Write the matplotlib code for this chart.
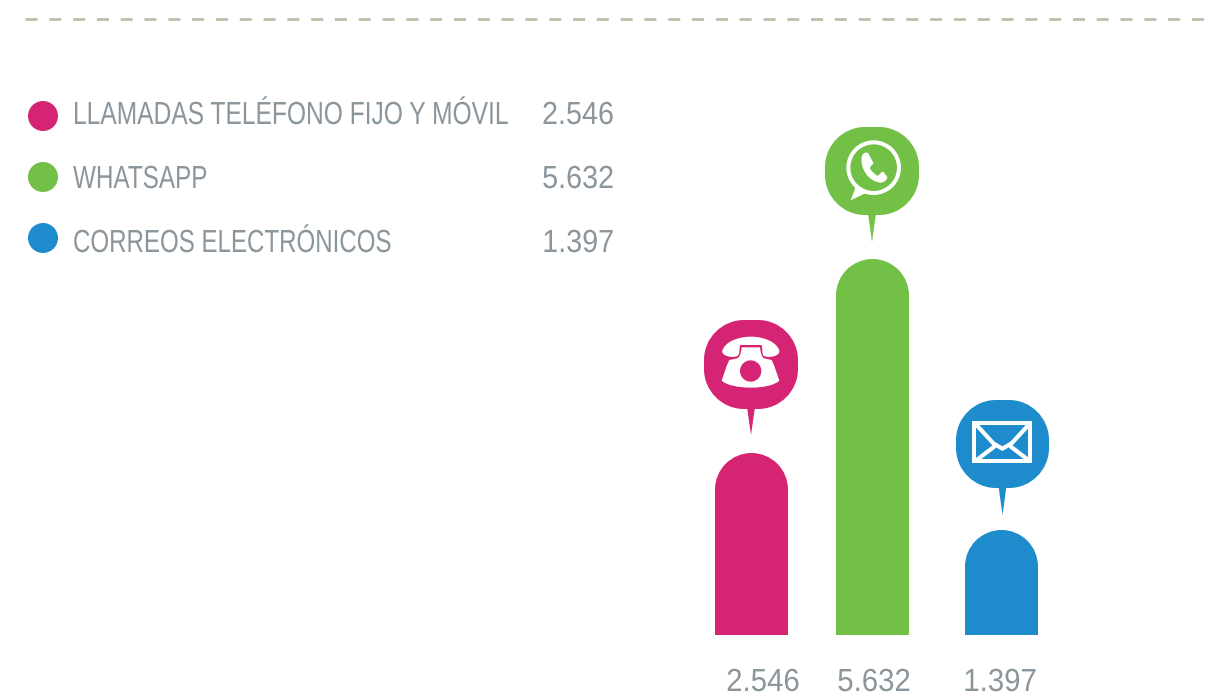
import matplotlib
matplotlib.use("Agg")
import matplotlib.pyplot as plt
from matplotlib.patches import Circle, Ellipse, PathPatch, Polygon, Rectangle
from matplotlib.patheffects import AbstractPathEffect
from matplotlib.path import Path
from matplotlib.transforms import Affine2D, Bbox

categories = ["LLAMADAS TELÉFONO FIJO Y MÓVIL", "WHATSAPP", "CORREOS ELECTRÓNICOS"]
value_labels = ["2.546", "5.632", "1.397"]
# drawn heights differ a bit from the labels in the original graphic
bar_heights = [2726, 5632, 1573]
colors = ["#d52473", "#72c045", "#1e8bcd"]

GREY = "#8b959c"
FONT = "Liberation Sans"


class Squeeze(AbstractPathEffect):
    # no condensed font installed, so narrow the glyphs around an anchor
    def __init__(self, x0, sx):
        super().__init__()
        self.x0 = x0
        self.sx = sx

    def draw_path(self, renderer, gc, tpath, affine, rgbFace=None):
        squeeze = Affine2D().translate(-self.x0, 0).scale(self.sx, 1).translate(self.x0, 0)
        renderer.draw_path(gc, tpath, affine + squeeze, rgbFace)


def narrow_text(x, y, s, sx, ha):
    t = ax.text(x, y, s, fontsize=23, color=GREY, family=FONT, va="baseline", ha=ha,
                path_effects=[Squeeze(x, sx)])
    full_extent = t.get_window_extent

    # report the box that is really drawn, not the unsqueezed one
    def extent(renderer=None, dpi=None):
        b = full_extent(renderer, dpi)
        return Bbox([[x + (b.x0 - x) * sx, b.y0], [x + (b.x1 - x) * sx, b.y1]])

    t.get_window_extent = extent
    return t


fig = plt.figure(figsize=(12.26, 6.97), dpi=100)

# overlay in pixel coordinates for legend, icons and labels
ax = fig.add_axes([0, 0, 1, 1], zorder=2)
ax.set_xlim(0, 1226)
ax.set_ylim(697, 0)
ax.axis("off")
ax.patch.set_alpha(0)

# bars, y in value units, baseline at pixel 635
PX = 5632 / 376
ax_bars = fig.add_axes([0, (697 - 635) / 697, 1, 420 / 697], zorder=1)
ax_bars.set_xlim(0, 1226)
ax_bars.set_ylim(0, 420 * PX)
ax_bars.axis("off")

bar_x = [751.5, 872.5, 1001.5]
bar_w = 73
for x, h, c in zip(bar_x, bar_heights, colors):
    r = bar_w / 2 * PX
    ax_bars.bar(x, h - r, width=bar_w, color=c, linewidth=0)
    ax_bars.add_patch(Ellipse((x, h - r), bar_w, 2 * r, color=c, linewidth=0))

# top dashed rule, dash lengths are in points times lw
ax.plot([25, 1206], [19, 19], color="#bcbba8", lw=1.9,
        linestyle=(0, (8.64 / 1.9, 8.5 / 1.9)), dash_capstyle="butt")

# legend
legend_y = [116, 177, 238]
baseline_y = [124, 188, 252]
label_sx = [0.769, 0.76, 0.754]
for name, lab, c, y, by, sx in zip(categories, value_labels, colors, legend_y, baseline_y, label_sx):
    ax.add_patch(Circle((43, y), 15, color=c, linewidth=0))
    narrow_text(73, by, name, sx, "left")
    narrow_text(614, by, lab, 0.9, "right")

# value labels under the bars
label_x = [763, 874, 1000]
for x, lab in zip(label_x, value_labels):
    narrow_text(x, 691, lab, 0.92, "center")

M, L, Z = Path.MOVETO, Path.LINETO, Path.CLOSEPOLY
C = [Path.CURVE4] * 3


def bubble(x0, x1, y0, y1, tip_x, tip_y, c):
    rad = 40
    k = rad * 0.45
    verts = [(x0 + rad, y0), (x1 - rad, y0),
             (x1 - k, y0), (x1, y0 + k), (x1, y0 + rad), (x1, y1 - rad),
             (x1, y1 - k), (x1 - k, y1), (x1 - rad, y1), (x0 + rad, y1),
             (x0 + k, y1), (x0, y1 - k), (x0, y1 - rad), (x0, y0 + rad),
             (x0, y0 + k), (x0 + k, y0), (x0 + rad, y0), (x0 + rad, y0)]
    codes = [M, L] + C + [L] + C + [L] + C + [L] + C + [Z]
    ax.add_patch(PathPatch(Path(verts, codes), facecolor=c, linewidth=0))
    ax.add_patch(Polygon([(tip_x - 4, y1 - 2), (tip_x + 4, y1 - 2), (tip_x, tip_y)],
                         facecolor=c, linewidth=0))


def curve_patch(ox, oy, verts, codes, **kw):
    pts = [(ox + vx / 3, oy + vy / 3) for vx, vy in verts]
    ax.add_patch(PathPatch(Path(pts, codes), linewidth=0, **kw))


# telephone
bubble(704, 798, 320, 409, 751, 435, colors[0])
curve_patch(690, 310,
            [(97, 122), (105, 95), (145, 80), (182, 80), (220, 80), (260, 95), (268, 122),
             (272, 136), (240, 146), (222, 138), (215, 133), (218, 120), (215, 105),
             (150, 105), (148, 120), (150, 133), (142, 138), (125, 146), (92, 136), (97, 122),
             (97, 122)],
            [M] + C + C + C + C + [L] + C + C + [Z],
            facecolor="white")
curve_patch(690, 310,
            [(155, 112), (210, 112), (212, 130), (215, 140), (222, 145), (245, 150), (255, 170),
             (262, 195), (268, 212), (240, 240), (125, 240), (95, 212), (101, 195), (108, 170),
             (118, 150), (142, 145), (150, 140), (153, 130), (155, 112), (155, 112)],
            [M, L] + C + [L] + C + C + C + [L] + C + [Z],
            facecolor="white")
ax.add_patch(Circle((690 + 182 / 3, 310 + 183 / 3), 32 / 3, color=colors[0], linewidth=0))

# whatsapp
bubble(825, 919, 127, 215, 872, 242, colors[1])
ax.add_patch(Circle((810 + 191 / 3, 115 + 158 / 3), 76 / 3, facecolor="none",
                    edgecolor="white", linewidth=2.9))
curve_patch(810, 115, [(140, 208), (122, 256), (172, 232), (140, 208), (140, 208)],
            [M, L, L, L, Z], facecolor="white")
curve_patch(810, 115,
            [(155, 125), (158, 112), (170, 110), (175, 115), (190, 143), (190, 150), (180, 152),
             (180, 160), (185, 170), (195, 178), (203, 182), (210, 180), (212, 170), (220, 170),
             (232, 186), (232, 195), (222, 203), (212, 203), (175, 200), (150, 160), (155, 125),
             (155, 125)],
            [M] + C + [L] + C + C + C + [L] + C + C + [Z],
            facecolor="white")

# envelope
bubble(956, 1049, 400, 488, 1002.5, 515, colors[2])
ax.add_patch(Rectangle((940 + 103 / 3, 390 + 100 / 3), 168 / 3, 112 / 3, facecolor="none",
                       edgecolor="white", linewidth=2.9))
env_kw = dict(color="white", lw=3.0, solid_capstyle="butt")
ax.plot([940 + 105 / 3, 940 + 160 / 3, 940 + 187 / 3, 940 + 215 / 3, 940 + 270 / 3],
        [390 + 100 / 3, 390 + 160 / 3, 390 + 176 / 3, 390 + 160 / 3, 390 + 100 / 3], **env_kw)
ax.plot([940 + 110 / 3, 940 + 165 / 3], [390 + 210 / 3, 390 + 168 / 3], **env_kw)
ax.plot([940 + 265 / 3, 940 + 210 / 3], [390 + 210 / 3, 390 + 168 / 3], **env_kw)

fig.savefig("out.png", dpi=100)
